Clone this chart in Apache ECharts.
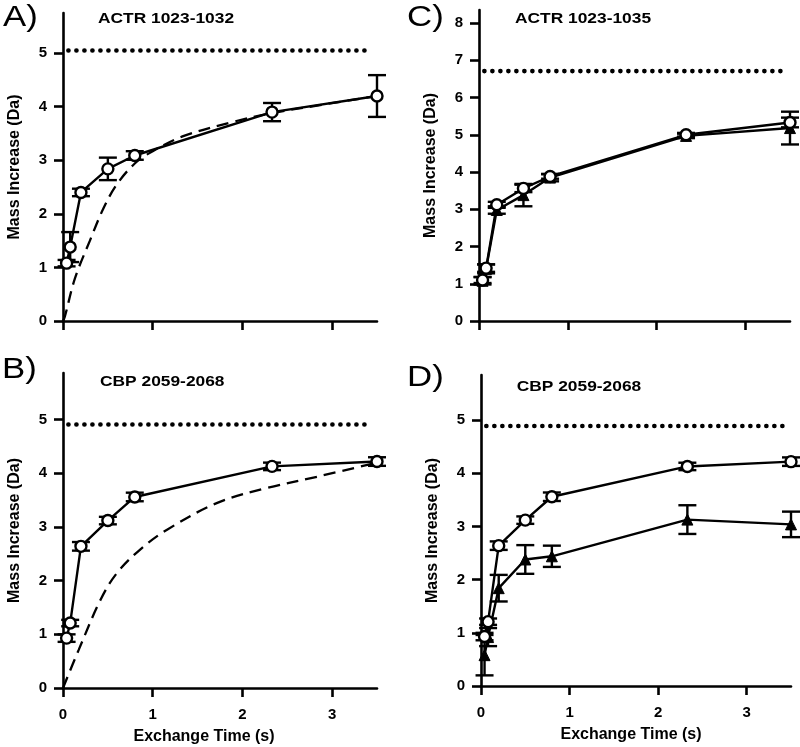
<!DOCTYPE html>
<html><head><meta charset="utf-8">
<script src="https://cdn.jsdelivr.net/npm/echarts@6/dist/echarts.min.js"></script>
<style>html,body{margin:0;padding:0;background:#fff}#c{width:800px;height:747px}</style>
</head><body><div id="c"></div>
<script>
// ---- data ----
const times = [0.04, 0.08, 0.2, 0.5, 0.8, 2.33, 3.5];

// Panel A: ACTR 1023-1032
const aOpen    = [1.08, 1.38, 2.40, 2.84, 3.09, 3.90, 4.20];
const aOpenErr = [0.06, 0.28, 0.07, 0.21, 0.08, 0.17, 0.39];
const aFitX = [0, 0.02, 0.134, 0.3, 0.45, 0.6, 0.8, 1.0, 1.34, 1.9, 2.33, 2.9, 3.5];
const aFitY = [0, 0.08, 0.8, 1.5, 2.1, 2.55, 2.94, 3.17, 3.45, 3.72, 3.88, 4.04, 4.2];
const aMax = 5.05;

// Panel B: CBP 2059-2068
const bOpen    = [0.93, 1.21, 2.64, 3.12, 3.56, 4.13, 4.22];
const bOpenErr = [0.07, 0.06, 0.08, 0.07, 0.08, 0.07, 0.08];
const bFitX = [0, 0.175, 0.42, 0.6, 0.86, 1.16, 1.72, 2.28, 2.84, 3.5];
const bFitY = [0, 0.71, 1.65, 2.14, 2.58, 2.95, 3.45, 3.73, 3.94, 4.2];
const bMax = 4.91;

// Panel C: ACTR 1023-1035
const cOpen    = [1.10, 1.42, 3.12, 3.56, 3.88, 5.00, 5.33];
const cOpenErr = [0.08, 0.10, 0.08, 0.10, 0.06, 0.05, 0.13];
const cTri     = [1.08, 1.40, 2.98, 3.38, 3.85, 4.97, 5.18];
const cTriErr  = [0.10, 0.12, 0.10, 0.30, 0.10, 0.06, 0.44];
const cMax = 6.71;

// Panel D: CBP 2059-2068
const dOpen    = [0.93, 1.21, 2.64, 3.12, 3.56, 4.13, 4.22];
const dOpenErr = [0.07, 0.06, 0.08, 0.07, 0.08, 0.07, 0.08];
const dTri     = [0.58, 0.92, 1.84, 2.38, 2.44, 3.13, 3.04];
const dTriErr  = [0.38, 0.17, 0.25, 0.27, 0.20, 0.27, 0.24];
const dMax = 4.89;

const maxLineX = [0.06, 3.42];
const xTicks = [0, 1, 2, 3];
const yTicks5 = [0, 1, 2, 3, 4, 5];
const yTicks8 = [0, 1, 2, 3, 4, 5, 6, 7, 8];
const panelLetters = ['A)', 'B)', 'C)', 'D)'];
const panelTitles = ['ACTR 1023-1032', 'CBP 2059-2068', 'ACTR 1023-1035', 'CBP 2059-2068'];
const xName = 'Exchange Time (s)';
const yName = 'Mass Increase (Da)';

// ---- chart ----
const FONT = 'Liberation Sans, Arial, sans-serif';
const INK = '#000';
const chart = echarts.init(document.getElementById('c'), null, {renderer: 'canvas'});

const grids = [
  {left: 63, top: 13, width: 314, height: 308},   // A
  {left: 63, top: 373, width: 314, height: 315},  // B
  {left: 479, top: 10, width: 311, height: 311},  // C
  {left: 481, top: 375, width: 310, height: 311}  // D
];
const yMaxes = [5.75, 5.87, 8.35, 5.85];
const xNamePad = [0, 32, 0, 10];

function xAxis(i, showLabels) {
  return {
    type: 'value', gridIndex: i, min: 0, max: 3.5,
    axisLine: {show: true, onZero: false, lineStyle: {color: INK, width: 2.6}},
    axisTick: {show: true, inside: false, length: 9, lineStyle: {color: INK, width: 2.6}, customValues: xTicks},
    axisLabel: {show: showLabels, customValues: xTicks, margin: 19, color: INK, fontSize: 15, fontWeight: 'bold', fontFamily: FONT},
    splitLine: {show: false},
    name: showLabels ? xName : '', nameLocation: 'middle', nameGap: 41,
    nameTextStyle: {color: INK, fontSize: 16, fontWeight: 'bold', fontFamily: FONT, padding: [0, xNamePad[i], 0, 0]}
  };
}
function yAxis(i, ticks) {
  return {
    type: 'value', gridIndex: i, min: 0, max: yMaxes[i],
    axisLine: {show: true, onZero: false, lineStyle: {color: INK, width: 2.6}},
    axisTick: {show: true, inside: false, length: 9, lineStyle: {color: INK, width: 2.6}, customValues: ticks},
    axisLabel: {customValues: ticks, margin: 16, color: INK, fontSize: 15, fontWeight: 'bold', fontFamily: FONT},
    splitLine: {show: false},
    name: yName, nameLocation: 'middle', nameGap: 40,
    nameTextStyle: {color: INK, fontSize: 16, fontWeight: 'bold', fontFamily: FONT}
  };
}

function pairs(xs, ys) { return xs.map((x, k) => [x, ys[k]]); }
function errData(ys, es) { return times.map((t, k) => [t, ys[k], es[k]]); }

function errSeries(i, ys, es) {
  return {
    type: 'custom', xAxisIndex: i, yAxisIndex: i, z: 2, silent: true,
    data: errData(ys, es),
    renderItem: function (params, api) {
      const x = api.value(0), y = api.value(1), e = api.value(2);
      const top = api.coord([x, y + e]);
      const bot = api.coord([x, y - e]);
      const hw = 9;
      const st = {stroke: INK, lineWidth: 2.4};
      return {type: 'group', children: [
        {type: 'line', shape: {x1: top[0], y1: top[1], x2: bot[0], y2: bot[1]}, style: st},
        {type: 'line', shape: {x1: top[0] - hw, y1: top[1], x2: top[0] + hw, y2: top[1]}, style: st},
        {type: 'line', shape: {x1: bot[0] - hw, y1: bot[1], x2: bot[0] + hw, y2: bot[1]}, style: st}
      ]};
    }
  };
}
function openSeries(i, ys) {
  return {
    type: 'line', xAxisIndex: i, yAxisIndex: i, z: 4,
    data: pairs(times, ys), symbol: 'circle', symbolSize: 11, showAllSymbol: true,
    lineStyle: {color: INK, width: 2.4},
    itemStyle: {color: '#fff', borderColor: INK, borderWidth: 2.4}
  };
}
function triSeries(i, ys) {
  return {
    type: 'line', xAxisIndex: i, yAxisIndex: i, z: 3,
    data: pairs(times, ys), symbol: 'triangle', symbolSize: 11, showAllSymbol: true,
    lineStyle: {color: INK, width: 2.4},
    itemStyle: {color: INK, borderColor: INK, borderWidth: 1}
  };
}
function fitSeries(i, xs, ys) {
  return {
    type: 'line', xAxisIndex: i, yAxisIndex: i, z: 1, smooth: 0.35,
    data: pairs(xs, ys), symbol: 'none',
    lineStyle: {color: INK, width: 2.3, type: [12, 7]}
  };
}
function maxSeries(i, v) {
  return {
    type: 'line', xAxisIndex: i, yAxisIndex: i, z: 1,
    data: maxLineX.map(x => [x, v]), symbol: 'none',
    lineStyle: {color: INK, width: 4.6, type: [0.1, 7.9], cap: 'round'}
  };
}

const letterPos = [[3, 3], [2, 355], [407, 3], [407, 363]];
const titlePos = [[98, 10.5], [100, 374], [515, 10.5], [516.7, 379]];
const graphics = [];
panelLetters.forEach((t, k) => graphics.push({
  type: 'text', x: letterPos[k][0], y: letterPos[k][1], scaleX: 1.2, silent: true,
  style: {text: t, fill: INK, fontSize: 29, fontFamily: FONT, fontWeight: 'normal', verticalAlign: 'top', align: 'left'}
}));
panelTitles.forEach((t, k) => graphics.push({
  type: 'text', x: titlePos[k][0], y: titlePos[k][1], scaleX: 1.12, silent: true,
  style: {text: t, fill: INK, fontSize: 15.5, fontFamily: FONT, fontWeight: 'bold', verticalAlign: 'top', align: 'left'}
}));

chart.setOption({
  animation: false,
  backgroundColor: '#fff',
  grid: grids,
  xAxis: [xAxis(0, false), xAxis(1, true), xAxis(2, false), xAxis(3, true)],
  yAxis: [yAxis(0, yTicks5), yAxis(1, yTicks5), yAxis(2, yTicks8), yAxis(3, yTicks5)],
  graphic: graphics,
  series: [
    maxSeries(0, aMax), fitSeries(0, aFitX, aFitY), errSeries(0, aOpen, aOpenErr), openSeries(0, aOpen),
    maxSeries(1, bMax), fitSeries(1, bFitX, bFitY), errSeries(1, bOpen, bOpenErr), openSeries(1, bOpen),
    maxSeries(2, cMax), errSeries(2, cTri, cTriErr), triSeries(2, cTri), errSeries(2, cOpen, cOpenErr), openSeries(2, cOpen),
    maxSeries(3, dMax), errSeries(3, dTri, dTriErr), triSeries(3, dTri), errSeries(3, dOpen, dOpenErr), openSeries(3, dOpen)
  ]
});
</script>
</body></html>
